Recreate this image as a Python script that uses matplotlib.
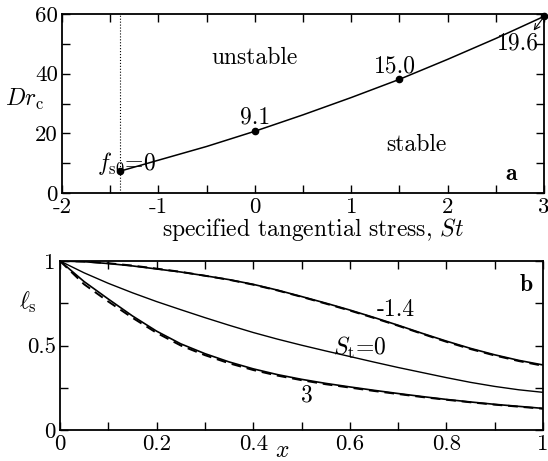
import numpy as np
import matplotlib
matplotlib.use('Agg')
import matplotlib.pyplot as plt
from matplotlib.ticker import MultipleLocator, FormatStrFormatter

plt.rcParams['font.family'] = ['cmr10', 'DejaVu Serif']
plt.rcParams['mathtext.fontset'] = 'cm'
plt.rcParams['axes.unicode_minus'] = False
plt.rcParams['axes.formatter.use_mathtext'] = False

# panel a: critical Dr_c vs specified tangential stress
St_curve = [-1.4, -1.0, -0.5, 0.0, 0.5, 1.0, 1.5, 2.0, 2.5, 3.0]
Drc_curve = [7.3, 11.0, 15.6, 20.7, 26.2, 32.0, 38.1, 44.8, 51.8, 59.2]
St_pts = [-1.4, 0.0, 1.5, 3.0]
Drc_pts = [7.3, 20.7, 38.1, 59.2]

# panel b: ell_s profiles
x = [0, 0.05, 0.1, 0.15, 0.2, 0.25, 0.3, 0.35, 0.4, 0.45, 0.5,
     0.55, 0.6, 0.65, 0.7, 0.75, 0.8, 0.85, 0.9, 0.95, 1.0]
ls_m14 = [1, 0.996, 0.985, 0.971, 0.953, 0.935, 0.913, 0.89, 0.862, 0.828, 0.79,
          0.751, 0.71, 0.666, 0.62, 0.572, 0.526, 0.483, 0.445, 0.412, 0.385]
ls_0 = [1, 0.93, 0.868, 0.812, 0.76, 0.712, 0.665, 0.62, 0.577, 0.538, 0.502,
        0.468, 0.435, 0.402, 0.37, 0.34, 0.31, 0.282, 0.258, 0.238, 0.223]
ls_3 = [1, 0.878, 0.775, 0.675, 0.585, 0.51, 0.452, 0.403, 0.362, 0.328, 0.30,
        0.276, 0.255, 0.235, 0.216, 0.198, 0.181, 0.166, 0.152, 0.14, 0.128]
ls_m14_approx = [1, 0.997, 0.987, 0.973, 0.955, 0.936, 0.913, 0.889, 0.86, 0.826, 0.788,
                 0.748, 0.707, 0.663, 0.617, 0.569, 0.522, 0.479, 0.441, 0.408, 0.38]
ls_3_approx = [1, 0.862, 0.76, 0.664, 0.575, 0.5, 0.443, 0.395, 0.355, 0.322, 0.295,
               0.271, 0.251, 0.231, 0.213, 0.195, 0.179, 0.164, 0.15, 0.138, 0.126]

fs = 17

fig = plt.figure(figsize=(5.48, 4.61), dpi=100)
ax1 = fig.add_axes([0.1131, 0.5813, 0.8796, 0.3883])
ax2 = fig.add_axes([0.1095, 0.0672, 0.8814, 0.3666])

for ax in (ax1, ax2):
    for s in ax.spines.values():
        s.set_linewidth(1.3)
    ax.tick_params(which='both', direction='in', top=True, right=True,
                   labelsize=fs - 0.5, width=1.0, pad=3, length=6)

# --- panel a
ax1.axvline(-1.4, color='k', linestyle=':', linewidth=0.8)
ax1.plot(St_curve, Drc_curve, color='k', linewidth=1.1)
ax1.plot(St_pts, Drc_pts, 'ko', markersize=4.5, clip_on=False)
ax1.set_xlim(-2, 3)
ax1.set_ylim(0, 60)
ax1.xaxis.set_major_locator(MultipleLocator(1))
ax1.xaxis.set_minor_locator(MultipleLocator(0.5))
ax1.yaxis.set_major_locator(MultipleLocator(20))
ax1.yaxis.set_minor_locator(MultipleLocator(10))
ax1.set_xlabel('specified tangential stress, $St$', fontsize=fs)
ax1.xaxis.set_label_coords(0.52, -0.13)
ax1.set_ylabel('$Dr_{\\mathrm{c}}$', fontsize=fs, rotation=0, va='center', ha='center')
ax1.yaxis.set_label_coords(-0.077, 0.52)

ax1.text(0.0, 45.3, 'unstable', fontsize=fs, ha='center', va='center')
ax1.text(1.68, 16.1, 'stable', fontsize=fs, ha='center', va='center')
ax1.text(2.66, 6.4, '$\\mathbf{a}$', fontsize=fs, ha='center', va='center')
ax1.text(0.0, 25.2, '9.1', fontsize=fs, ha='center', va='center')
ax1.text(1.45, 42.3, '15.0', fontsize=fs, ha='center', va='center')
ax1.text(2.73, 50.2, '19.6', fontsize=fs, ha='center', va='center')
ax1.text(-1.64, 10.0, '$f_{\\mathrm{s0}}$=0', fontsize=fs, ha='left', va='center')
ax1.annotate('', xy=(2.875, 53.7), xytext=(3.0, 59.1),
             arrowprops=dict(arrowstyle='->', color='k', lw=0.8))

# --- panel b
ax2.plot(x, ls_m14, color='k', linewidth=1.2)
ax2.plot(x, ls_0, color='k', linewidth=1.0)
ax2.plot(x, ls_3, color='k', linewidth=1.2)
ax2.plot(x, ls_m14_approx, color='k', linewidth=1.4, dashes=(5, 3))
ax2.plot(x, ls_3_approx, color='k', linewidth=1.4, dashes=(5, 3))
ax2.set_xlim(0, 1)
ax2.set_ylim(0, 1)
ax2.xaxis.set_major_locator(MultipleLocator(0.2))
ax2.xaxis.set_minor_locator(MultipleLocator(0.1))
ax2.yaxis.set_major_locator(MultipleLocator(0.5))
ax2.yaxis.set_minor_locator(MultipleLocator(0.25))
ax2.xaxis.set_major_formatter(FormatStrFormatter('%g'))
ax2.yaxis.set_major_formatter(FormatStrFormatter('%g'))
ax2.set_xlabel('$x$', fontsize=fs)
ax2.xaxis.set_label_coords(0.46, -0.06)
ax2.set_ylabel('$\\ell_{\\mathrm{s}}$', fontsize=fs, rotation=0, va='center', ha='center')
ax2.yaxis.set_label_coords(-0.066, 0.757)

ax2.text(0.696, 0.71, '-1.4', fontsize=fs, ha='center', va='center')
ax2.text(0.621, 0.485, '$S_{\\mathrm{t}}$=0', fontsize=fs, ha='center', va='center')
ax2.text(0.511, 0.207, '3', fontsize=fs, ha='center', va='center')
ax2.text(0.966, 0.858, '$\\mathbf{b}$', fontsize=fs, ha='center', va='center')

fig.savefig('out.png', dpi=100)
